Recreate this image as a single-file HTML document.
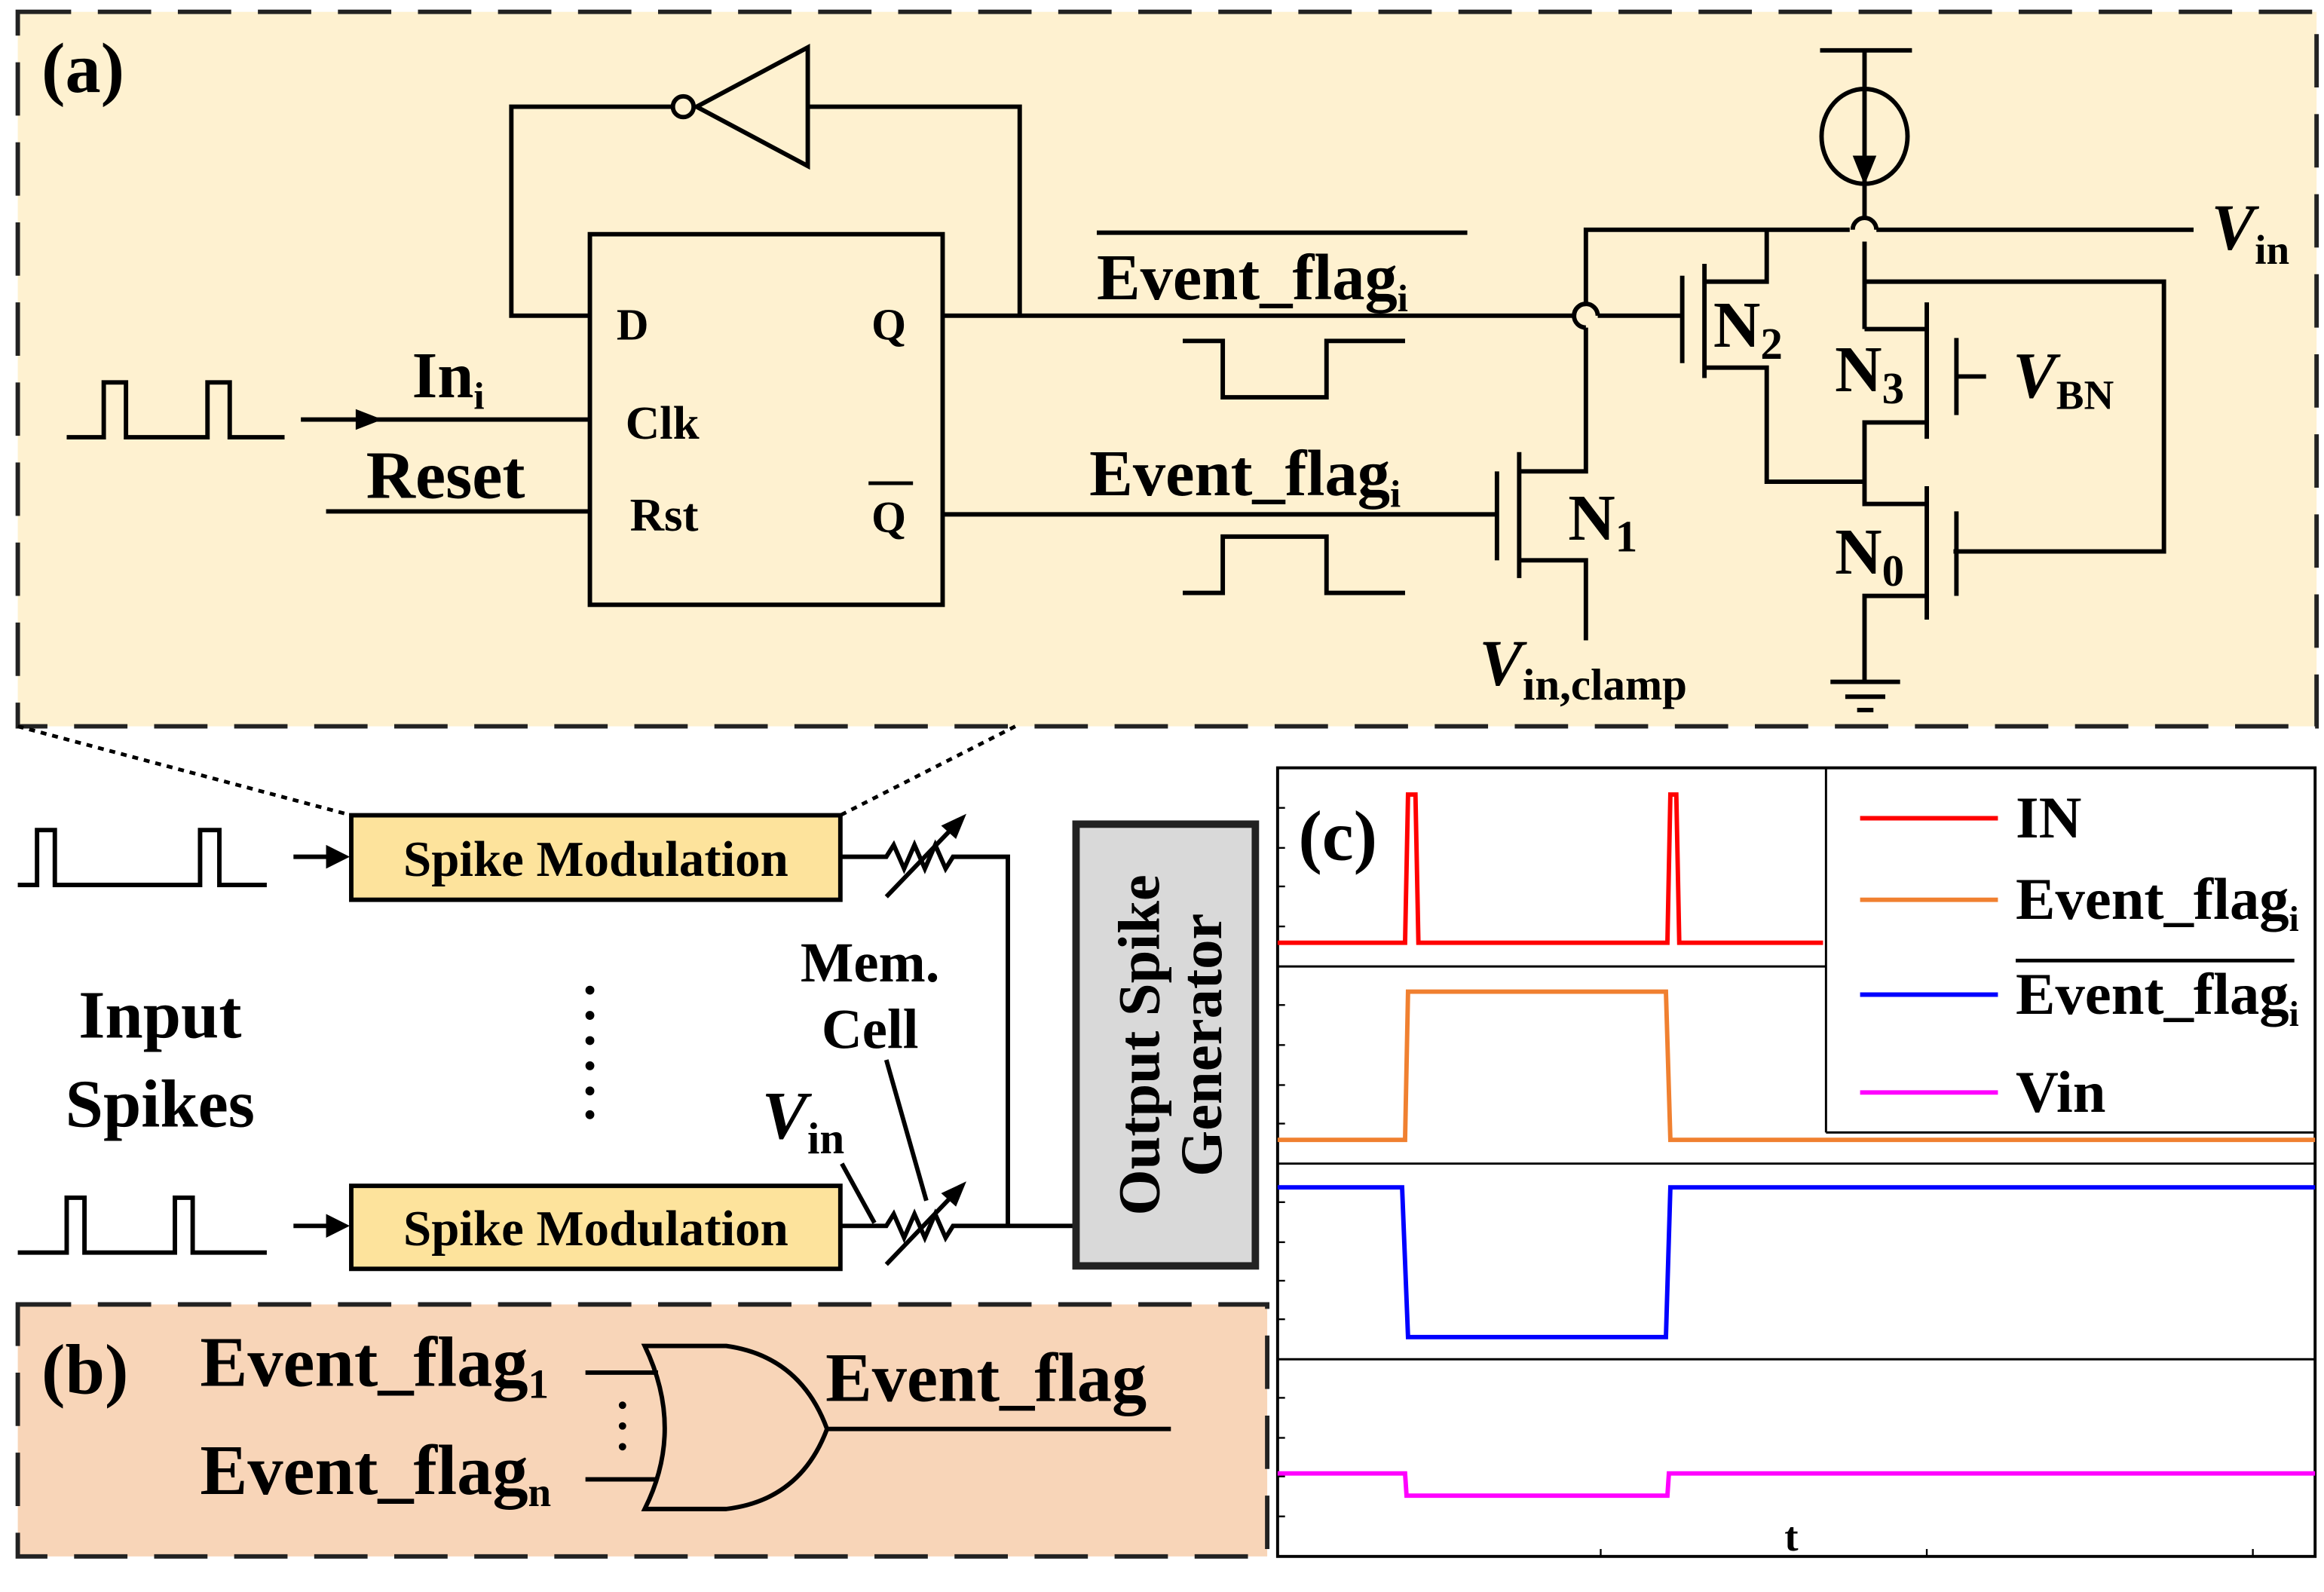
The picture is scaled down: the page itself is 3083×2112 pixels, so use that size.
<!DOCTYPE html>
<html><head><meta charset="utf-8"><style>
html,body{margin:0;padding:0;background:#fff;}
svg{display:block;}
text{font-family:"Liberation Serif",serif;font-weight:bold;fill:#000;}
</style></head><body>
<svg width="3083" height="2112" viewBox="0 0 1568 1074" preserveAspectRatio="none" xmlns="http://www.w3.org/2000/svg">
<rect x="0" y="0" width="1568" height="1074" fill="#fff"/>
<!-- panel a -->
<rect x="12" y="8" width="1551" height="482" fill="#fef1d0" stroke="#222" stroke-width="3" stroke-dasharray="36,18"/>
<text x="28" y="62" font-size="48">(a)</text>
<g stroke="#000" stroke-width="3" fill="none">
<polygon points="545,32 545,112 470,72"/>
<circle cx="461" cy="72" r="7" fill="#fef1d0"/>
<polyline points="454,72 345,72 345,213 398,213"/>
<polyline points="545,72 688,72 688,213"/>
<rect x="398" y="158" width="238" height="250"/>
<polyline points="636,213 1062,213"/>
<path d="M1062,213 A8,8 0 0 1 1078,213"/>
<line x1="1078" y1="213" x2="1135" y2="213"/>
<line x1="636" y1="347" x2="1010" y2="347"/>
<polyline points="798,230 825,230 825,268 895,268 895,230 948,230"/>
<polyline points="798,400 825,400 825,362 895,362 895,400 948,400"/>
<polyline points="45,295 70,295 70,258 85,258 85,295 140,295 140,258 155,258 155,295 192,295"/>
<line x1="203" y1="283" x2="398" y2="283"/>
<line x1="220" y1="345" x2="398" y2="345"/>
<line x1="1010" y1="318" x2="1010" y2="378"/>
<line x1="1025" y1="305" x2="1025" y2="390"/>
<polyline points="1025,318 1070,318 1070,221"/>
<polyline points="1070,205 1070,155 1248,155"/>
<path d="M1070,221 A8,8 0 0 1 1070,205"/>
<polyline points="1025,378 1070,378 1070,432"/>
<path d="M1250,155 A8,8 0 0 1 1266,155"/>
<line x1="1266" y1="155" x2="1480" y2="155"/>
<line x1="1135" y1="186" x2="1135" y2="245"/>
<line x1="1150" y1="178" x2="1150" y2="255"/>
<polyline points="1150,190 1192,190 1192,155"/>
<polyline points="1150,248 1192,248 1192,325 1258,325"/>
<line x1="1228" y1="34" x2="1290" y2="34"/>
<line x1="1258" y1="34" x2="1258" y2="147"/>
<ellipse cx="1258" cy="92" rx="29" ry="32"/>
<line x1="1258" y1="163" x2="1258" y2="222"/>
<polyline points="1258,190 1460,190 1460,372 1318,372"/>
<line x1="1300" y1="204" x2="1300" y2="296"/>
<line x1="1258" y1="222" x2="1300" y2="222"/>
<polyline points="1300,285 1258,285 1258,340 1300,340"/>
<line x1="1320" y1="228" x2="1320" y2="280"/>
<line x1="1320" y1="254" x2="1340" y2="254"/>
<line x1="1300" y1="328" x2="1300" y2="418"/>
<line x1="1320" y1="345" x2="1320" y2="402"/>
<polyline points="1300,402 1258,402 1258,460"/>
<line x1="1235" y1="460" x2="1282" y2="460"/>
<line x1="1245" y1="470" x2="1272" y2="470"/>
<line x1="1253" y1="479" x2="1264" y2="479"/>
</g>
<polygon points="1250,105 1266,105 1258,125" fill="#000"/>
<polygon points="258,283 240,276 240,290" fill="#000"/>
<text x="416" y="229" font-size="30">D</text>
<text x="588" y="229" font-size="30">Q</text>
<text x="422" y="296" font-size="32">Clk</text>
<text x="425" y="358" font-size="32">Rst</text>
<text x="588" y="359" font-size="30">Q</text>
<line x1="586" y1="326" x2="616" y2="326" stroke="#000" stroke-width="2.5"/>
<text x="278" y="268" font-size="44">In<tspan font-size="26" dy="8">i</tspan></text>
<text x="247" y="336" font-size="46">Reset</text>
<text x="740" y="202" font-size="44">Event_flag<tspan font-size="26" dy="8">i</tspan></text>
<line x1="740" y1="157" x2="990" y2="157" stroke="#000" stroke-width="3"/>
<text x="735" y="334" font-size="44">Event_flag<tspan font-size="26" dy="8">i</tspan></text>
<text x="1058" y="364" font-size="44">N<tspan font-size="30" dy="8">1</tspan></text>
<text x="1156" y="234" font-size="44">N<tspan font-size="30" dy="8">2</tspan></text>
<text x="1238" y="264" font-size="44">N<tspan font-size="30" dy="8">3</tspan></text>
<text x="1238" y="387" font-size="44">N<tspan font-size="30" dy="8">0</tspan></text>
<text x="1358" y="268" font-size="44" font-style="italic">V<tspan font-size="28" font-style="normal" dy="8">BN</tspan></text>
<text x="1492" y="168" font-size="44" font-style="italic">V<tspan font-size="28" font-style="normal" dy="10">in</tspan></text>
<text x="998" y="462" font-size="44" font-style="italic">V<tspan font-size="30" font-style="normal" dy="10">in,clamp</tspan></text>
<line x1="12" y1="490" x2="237" y2="550" stroke="#000" stroke-width="2.5" stroke-dasharray="4,4"/>
<line x1="685" y1="490" x2="567" y2="550" stroke="#000" stroke-width="2.5" stroke-dasharray="4,4"/>
<rect x="237" y="550" width="330" height="57" fill="#fde39c" stroke="#000" stroke-width="3"/>
<rect x="237" y="800" width="330" height="56" fill="#fde39c" stroke="#000" stroke-width="3"/>
<text x="402" y="591" font-size="34" text-anchor="middle">Spike Modulation</text>
<text x="402" y="840" font-size="34" text-anchor="middle">Spike Modulation</text>
<g stroke="#000" stroke-width="3" fill="none">
<polyline points="12,597 25,597 25,560 37,560 37,597 135,597 135,560 148,560 148,597 180,597"/>
<polyline points="12,845 45,845 45,808 57,808 57,845 118,845 118,808 130,808 130,845 180,845"/>
<line x1="198" y1="578" x2="222" y2="578"/>
<line x1="198" y1="827" x2="222" y2="827"/>
<polyline points="567,578 598,578 603,570 610,586 617,570 624,586 631,570 638,586 643,578 680,578 680,827"/>
<polyline points="567,827 598,827 603,819 610,835 617,819 624,835 631,819 638,835 643,827 725,827"/>
<line x1="598" y1="605" x2="648" y2="553"/>
<line x1="598" y1="853" x2="648" y2="801"/>
<line x1="598" y1="715" x2="625" y2="810"/>
<line x1="568" y1="785" x2="590" y2="825"/>
</g>
<polygon points="236,578 220,570 220,586" fill="#000"/>
<polygon points="236,827 220,819 220,835" fill="#000"/>
<polygon points="652,549 635,557 645,566" fill="#000"/>
<polygon points="652,797 635,805 645,814" fill="#000"/>
<text x="587" y="662" font-size="38" text-anchor="middle">Mem.</text>
<text x="587" y="707" font-size="38" text-anchor="middle">Cell</text>
<text x="514" y="768" font-size="46" font-style="italic">V<tspan font-size="30" font-style="normal" dy="10">in</tspan></text>
<text x="108" y="700" font-size="46" text-anchor="middle">Input</text>
<text x="108" y="760" font-size="46" text-anchor="middle">Spikes</text>
<g fill="#000"><circle cx="398" cy="668" r="3"/><circle cx="398" cy="685" r="3"/><circle cx="398" cy="702" r="3"/><circle cx="398" cy="719" r="3"/><circle cx="398" cy="736" r="3"/><circle cx="398" cy="752" r="3"/></g>
<rect x="726" y="556" width="121" height="298" fill="#d9d9d9" stroke="#222" stroke-width="5"/>
<text transform="translate(788,705) rotate(-90)" font-size="40" text-anchor="middle"><tspan x="0" y="-6">Output Spike</tspan><tspan x="0" y="36">Generator</tspan></text>
<rect x="12" y="880" width="843" height="170" fill="#f8d5b8" stroke="#222" stroke-width="3" stroke-dasharray="36,18"/>
<text x="28" y="940" font-size="48">(b)</text>
<text x="135" y="935" font-size="48">Event_flag<tspan font-size="28" dy="8">1</tspan></text>
<text x="135" y="1008" font-size="48">Event_flag<tspan font-size="28" dy="8">n</tspan></text>
<text x="557" y="945" font-size="47">Event_flag</text>
<g stroke="#000" stroke-width="3" fill="none">
<path d="M435,908 L490,908 Q540,915 558,964 Q540,1012 490,1018 L435,1018 Q462,964 435,908 Z"/>
<line x1="395" y1="926" x2="444" y2="926"/>
<line x1="395" y1="998" x2="444" y2="998"/>
<line x1="558" y1="964" x2="790" y2="964"/>
</g>
<g fill="#000"><circle cx="420" cy="948" r="2.5"/><circle cx="420" cy="962" r="2.5"/><circle cx="420" cy="976" r="2.5"/></g>
<rect x="862" y="518" width="700" height="532" fill="#fff" stroke="#000" stroke-width="2"/>
<g stroke="#000" stroke-width="1.5">
<line x1="862" y1="652" x2="1232" y2="652"/>
<line x1="862" y1="785" x2="1562" y2="785"/>
<line x1="862" y1="917" x2="1562" y2="917"/>
<line x1="1232" y1="764" x2="1562" y2="764"/>
<line x1="1232" y1="518" x2="1232" y2="764"/>
</g>
<g stroke="#000" stroke-width="1.2">
<line x1="862" y1="545" x2="867" y2="545"/><line x1="862" y1="572" x2="867" y2="572"/><line x1="862" y1="598" x2="867" y2="598"/><line x1="862" y1="625" x2="867" y2="625"/>
<line x1="862" y1="678" x2="867" y2="678"/><line x1="862" y1="705" x2="867" y2="705"/><line x1="862" y1="732" x2="867" y2="732"/><line x1="862" y1="758" x2="867" y2="758"/>
<line x1="862" y1="811" x2="867" y2="811"/><line x1="862" y1="838" x2="867" y2="838"/><line x1="862" y1="864" x2="867" y2="864"/><line x1="862" y1="890" x2="867" y2="890"/>
<line x1="862" y1="943" x2="867" y2="943"/><line x1="862" y1="970" x2="867" y2="970"/><line x1="862" y1="996" x2="867" y2="996"/><line x1="862" y1="1023" x2="867" y2="1023"/>
<line x1="1080" y1="1050" x2="1080" y2="1045"/><line x1="1300" y1="1050" x2="1300" y2="1045"/><line x1="1520" y1="1050" x2="1520" y2="1045"/>
</g>
<g fill="none" stroke-width="3">
<polyline stroke="#ff0000" points="862,636 948,636 950,536 955,536 957,636 1125,636 1127,536 1131,536 1133,636 1230,636"/>
<polyline stroke="#f08030" points="862,769 948,769 950,669 1124,669 1127,769 1562,769"/>
<polyline stroke="#0000ff" points="862,801 946,801 950,902 1124,902 1127,801 1562,801"/>
<polyline stroke="#ff00ff" points="862,994 948,994 949,1009 1125,1009 1126,994 1562,994"/>
<line stroke="#ff0000" x1="1255" y1="552" x2="1348" y2="552"/>
<line stroke="#f08030" x1="1255" y1="607" x2="1348" y2="607"/>
<line stroke="#0000ff" x1="1255" y1="671" x2="1348" y2="671"/>
<line stroke="#ff00ff" x1="1255" y1="737" x2="1348" y2="737"/>
</g>
<text x="876" y="580" font-size="48">(c)</text>
<text x="1360" y="565" font-size="40">IN</text>
<text x="1360" y="620" font-size="40">Event_flag<tspan font-size="24" dy="8">i</tspan></text>
<text x="1360" y="684" font-size="40">Event_flag<tspan font-size="24" dy="8">i</tspan></text>
<line x1="1360" y1="648" x2="1548" y2="648" stroke="#000" stroke-width="2.5"/>
<text x="1360" y="750" font-size="40">Vin</text>
<text x="1204" y="1046" font-size="28">t</text>
</svg>
</body></html>
